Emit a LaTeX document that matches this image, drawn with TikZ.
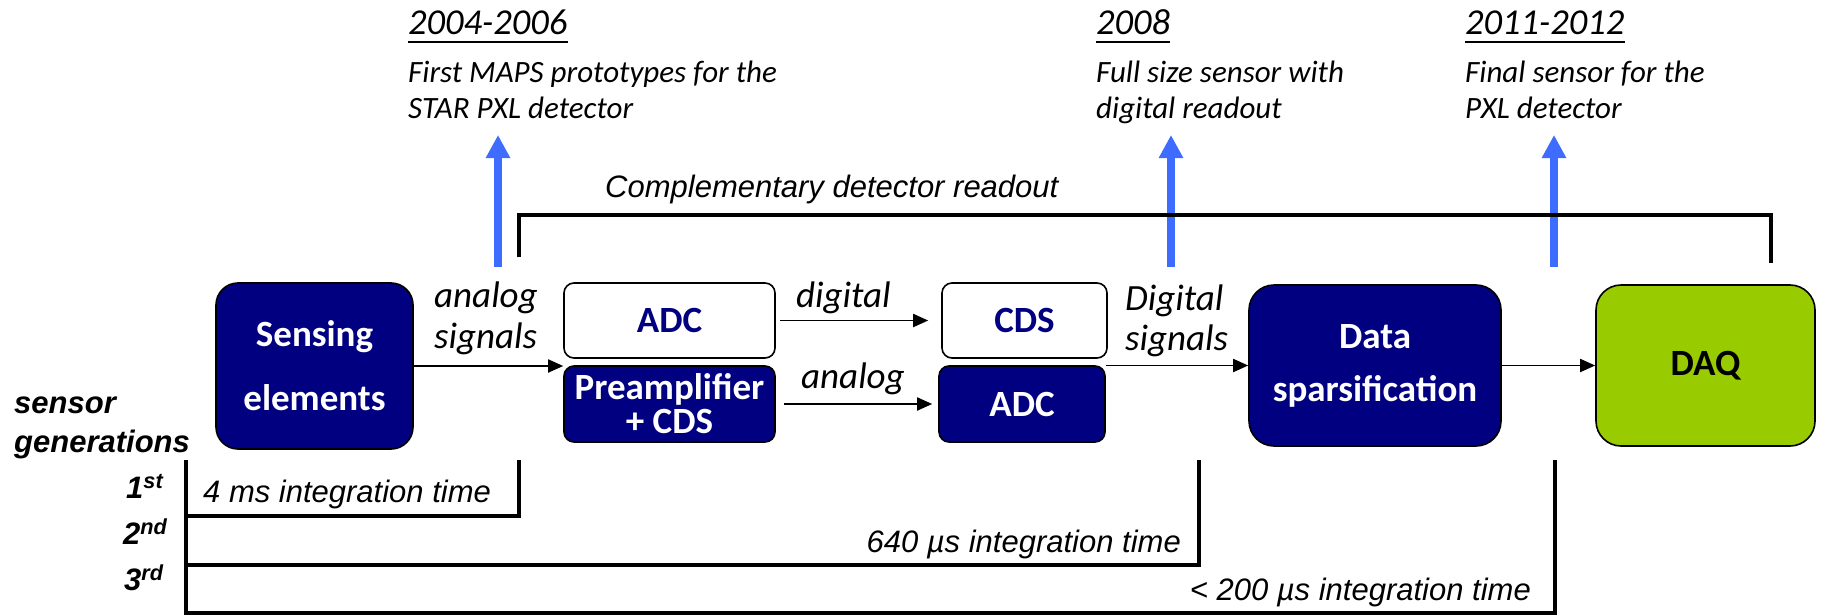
\documentclass[tikz,border=0pt]{standalone}
\usepackage{fontspec}
\setmainfont{Carlito}
\newfontfamily\arialf{Liberation Sans}
\usetikzlibrary{arrows.meta}
\definecolor{navyb}{RGB}{0,0,128}
\definecolor{daqgreen}{RGB}{153,204,0}
\definecolor{tlblue}{RGB}{61,108,255}
\begin{document}
\begin{tikzpicture}[x=1pt,y=-1pt,
  boxbase/.style={draw=black, line width=1.6pt, inner sep=0pt, align=center},
  darkbox/.style={boxbase, fill=navyb, text=white, font=\fontsize{37}{64}\selectfont\bfseries},
  whitebox/.style={boxbase, fill=white, text=navyb, font=\fontsize{37}{44}\selectfont\bfseries},
  greenbox/.style={boxbase, fill=daqgreen, text=black, font=\fontsize{37}{44}\selectfont\bfseries},
  conn/.style={line width=1.8pt, -{Triangle[length=15pt,width=13pt]}},
  tlarrow/.style={tlblue, line width=8pt, -{Triangle[length=23pt,width=23pt]}},
  track/.style={line width=4pt, line join=miter},
  lbl/.style={inner sep=0pt, anchor=base west, font=\fontsize{37}{44}\selectfont\itshape},
  year/.style={inner sep=0pt, anchor=base west, font=\fontsize{36.5}{44}\selectfont\itshape},
  desc/.style={inner sep=0pt, anchor=base west, font=\fontsize{31}{36}\selectfont\itshape},
  ar/.style={inner sep=0pt, font=\fontsize{31}{36}\arialf\itshape},
  gen/.style={inner sep=0pt, anchor=base west, font=\fontsize{31}{36}\arialf\bfseries\itshape},
]
\useasboundingbox (0,0) rectangle (1827,615);

% boxes
\node[darkbox, rounded corners=22pt, minimum width=197pt, minimum height=166pt] (sense) at (314.5,366) {Sensing\\elements};
\node[whitebox, rounded corners=10pt, minimum width=211pt, minimum height=75pt] (adcw) at (669.5,320.5) {ADC};
\node[darkbox, rounded corners=10pt, minimum width=211pt, minimum height=76pt, font=\fontsize{37}{34}\selectfont\bfseries] (preamp) at (669.5,404) {Preamplifier\\+ CDS};
\node[whitebox, rounded corners=10pt, minimum width=165pt, minimum height=75pt] (cds) at (1024.5,320.5) {CDS};
\node[darkbox, rounded corners=10pt, minimum width=166pt, minimum height=76pt] (adcd) at (1022,404) {ADC};
\node[darkbox, rounded corners=25pt, minimum width=252pt, minimum height=161pt, font=\fontsize{37}{53}\selectfont\bfseries] (data) at (1375,365.5) {Data\\sparsification};
\node[greenbox, rounded corners=25pt, minimum width=219pt, minimum height=161pt] (daq) at (1705.5,365.5) {DAQ};

% connectors
\draw[conn] (sense.east) -- (sense.east -| preamp.west);
\draw[conn, shorten <=4pt, shorten >=13pt] (adcw.east) -- (cds.west);
\draw[conn, shorten <=8pt, shorten >=6pt] (preamp.east) -- (adcd.west);
\draw[conn] (adcd.north east |- data.west) -- (data.west);
\draw[conn] (data.east) -- (daq.west);

% connector labels
\node[lbl] (an1) at (434,307) {analog};
\node[lbl] (an2) at (434,348) {signals};
\node[lbl] (dg) at (796,307) {digital};
\node[lbl] (an3) at (801,388) {analog};
\node[lbl] (ds1) at (1125,310) {Digital};
\node[lbl] (ds2) at (1125,350) {signals};

% top annotations
\node[year] (y1) at (408,35) {2004-2006};
\node[desc] (d1a) at (408,83) {First MAPS prototypes for the};
\node[desc] (d1b) at (408,119) {STAR PXL detector};
\node[year] (y2) at (1096,35) {2008};
\node[desc] (d2a) at (1096,83) {Full size sensor with};
\node[desc] (d2b) at (1096,119) {digital readout};
\node[year] (y3) at (1465,35) {2011-2012};
\node[desc] (d3a) at (1465,83) {Final sensor for the};
\node[desc] (d3b) at (1465,119) {PXL detector};
\foreach \n in {y1,y2,y3}
  \draw[line width=2pt] ([yshift=-7pt]\n.base west) -- ([yshift=-7pt]\n.base east);

% timeline arrows
\coordinate (b1) at (498,267); \coordinate (t1) at (498,135);
\coordinate (b2) at (1171,267); \coordinate (t2) at (1171,135);
\coordinate (b3) at (1554,267); \coordinate (t3) at (1554,135);
\draw[tlarrow] (b1) -- (t1);
\draw[tlarrow] (b2) -- (t2);
\draw[tlarrow] (b3) -- (t3);

% complementary readout bracket
\node[ar, anchor=base west] (comp) at (605,197) {Complementary detector readout};
\coordinate (cl) at (519,257); \coordinate (ctop) at (1771,215); \coordinate (cr) at (1771,263);
\draw[track] (cl) |- (ctop) -- (cr);

% sensor generations
\node[gen] (sg1) at (14,413) {sensor};
\node[gen] (sg2) at (14,452) {generations};
\node[gen] (g1) at (126,498) {1\textsuperscript{st}};
\node[gen] (g2) at (123,544) {2\textsuperscript{nd}};
\node[gen] (g3) at (124,590) {3\textsuperscript{rd}};

\coordinate (lt) at (186,460); \coordinate (lb) at (186,615);
\coordinate (e1) at (519,460); \coordinate (h1) at (186,516);
\coordinate (e2) at (1199,460); \coordinate (h2) at (186,565);
\coordinate (e3) at (1555,460); \coordinate (h3) at (186,613);
\draw[track] (lt) -- (lb);
\draw[track] (e1) |- (h1);
\draw[track] (e2) |- (h2);
\draw[track] (e3) |- (h3);

\node[ar, anchor=base west] (it1) at (203,502) {4 ms integration time};
\node[ar, anchor=base east] (it2) at (1181,552) {640 µs integration time};
\node[ar, anchor=base east] (it3) at (1531,600) {< 200 µs integration time};
\end{tikzpicture}
\end{document}
